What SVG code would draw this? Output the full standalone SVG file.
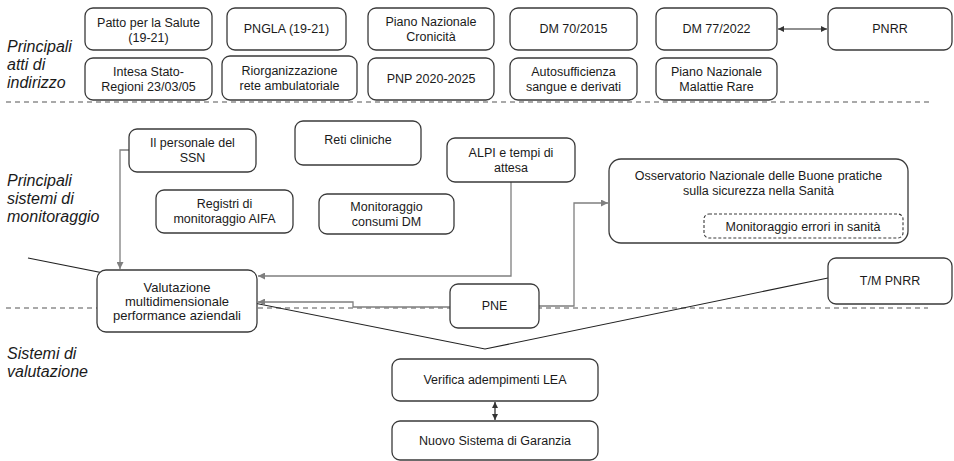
<svg xmlns="http://www.w3.org/2000/svg" width="954" height="461" viewBox="0 0 954 461">
<defs>
<style>
.b{fill:#fff;stroke:#3a3a3a;stroke-width:1.3}
.t{font-family:"Liberation Sans",Arial,sans-serif;font-size:12.5px;fill:#1a1a1a;text-anchor:middle;dominant-baseline:central}
.l{font-family:"Liberation Sans",Arial,sans-serif;font-size:16px;font-style:italic;fill:#1a1a1a}
.d{stroke:#555;stroke-width:1.2;stroke-dasharray:5 4;fill:none}
.c{stroke:#7f7f7f;stroke-width:1.3;fill:none}
.k{stroke:#222;stroke-width:1.2;fill:none}
</style>
<marker id="ag" viewBox="0 0 10 10" refX="10" refY="5" markerWidth="8" markerHeight="7" markerUnits="userSpaceOnUse" orient="auto"><path d="M0,0L10,5L0,10z" fill="#7f7f7f"/></marker>
<marker id="ak" viewBox="0 0 10 10" refX="10" refY="5" markerWidth="7" markerHeight="6" markerUnits="userSpaceOnUse" orient="auto-start-reverse"><path d="M0,0L10,5L0,10z" fill="#333"/></marker>
</defs>

<g id="labels">
<text class="l" x="7" y="52">Principali</text>
<text class="l" x="7" y="70">atti di</text>
<text class="l" x="7" y="88">indirizzo</text>
<text class="l" x="7" y="186">Principali</text>
<text class="l" x="7" y="204">sistemi di</text>
<text class="l" x="7" y="222">monitoraggio</text>
<text class="l" x="7" y="359">Sistemi di</text>
<text class="l" x="7" y="377">valutazione</text>
</g>

<g id="separators">
<line class="d" x1="6" y1="102" x2="930" y2="102"/>
<line class="d" x1="6" y1="308" x2="928" y2="308"/>
</g>

<g id="connectors">
<path class="k" d="M28,258L485,349L828,278"/>
<path class="c" d="M129,150H120V269" marker-end="url(#ag)"/>
<path class="c" d="M511,182V276H258" marker-end="url(#ag)"/>
<path class="c" d="M450,307H353V302H258" marker-end="url(#ag)"/>
<path class="c" d="M539,306H574V203H608" marker-end="url(#ag)"/>
<path class="k" d="M778,29H827" marker-start="url(#ak)" marker-end="url(#ak)"/>
<path class="k" d="M495,402V420" marker-start="url(#ak)" marker-end="url(#ak)"/>
</g>

<g id="n-patto"><rect class="b" x="85" y="8" width="127" height="42" rx="8"/><text class="t" x="148.5" y="23">Patto per la Salute</text><text class="t" x="148.5" y="38">(19-21)</text></g>
<g id="n-pngla"><rect class="b" x="227" y="8" width="119" height="42" rx="8"/><text class="t" x="286.5" y="29">PNGLA (19-21)</text></g>
<g id="n-cronicita"><rect class="b" x="368" y="8" width="126" height="42" rx="8"/><text class="t" x="431" y="22">Piano Nazionale</text><text class="t" x="431" y="37">Cronicità</text></g>
<g id="n-dm70"><rect class="b" x="510" y="8" width="127" height="42" rx="8"/><text class="t" x="573.5" y="29">DM 70/2015</text></g>
<g id="n-dm77"><rect class="b" x="656" y="8" width="121" height="42" rx="8"/><text class="t" x="716.5" y="29">DM 77/2022</text></g>
<g id="n-pnrr"><rect class="b" x="828" y="8" width="124" height="42" rx="8"/><text class="t" x="890" y="29">PNRR</text></g>

<g id="n-intesa"><rect class="b" x="85" y="58" width="127" height="42" rx="8"/><text class="t" x="148.5" y="72">Intesa Stato-</text><text class="t" x="148.5" y="87">Regioni 23/03/05</text></g>
<g id="n-riorg"><rect class="b" x="222" y="56" width="135" height="44" rx="8"/><text class="t" x="289.5" y="71">Riorganizzazione</text><text class="t" x="289.5" y="86">rete ambulatoriale</text></g>
<g id="n-pnp"><rect class="b" x="368" y="58" width="126" height="42" rx="8"/><text class="t" x="431" y="79">PNP 2020-2025</text></g>
<g id="n-sangue"><rect class="b" x="510" y="58" width="127" height="42" rx="8"/><text class="t" x="573.5" y="72">Autosufficienza</text><text class="t" x="573.5" y="87">sangue e derivati</text></g>
<g id="n-rare"><rect class="b" x="656" y="58" width="121" height="42" rx="8"/><text class="t" x="716.5" y="72">Piano Nazionale</text><text class="t" x="716.5" y="87">Malattie Rare</text></g>

<g id="n-personale"><rect class="b" x="129" y="129" width="127" height="43" rx="8"/><text class="t" x="192.5" y="143">Il personale del</text><text class="t" x="192.5" y="158">SSN</text></g>
<g id="n-reti"><rect class="b" x="295" y="121" width="126" height="44" rx="8"/><text class="t" x="358" y="140">Reti cliniche</text></g>
<g id="n-alpi"><rect class="b" x="447" y="138" width="128" height="44" rx="8"/><text class="t" x="511" y="153">ALPI e tempi di</text><text class="t" x="511" y="168">attesa</text></g>
<g id="n-aifa"><rect class="b" x="156" y="190" width="137" height="43" rx="8"/><text class="t" x="224.5" y="204">Registri di</text><text class="t" x="224.5" y="219">monitoraggio AIFA</text></g>
<g id="n-consumi"><rect class="b" x="319" y="194" width="135" height="40" rx="8"/><text class="t" x="386.5" y="207">Monitoraggio</text><text class="t" x="386.5" y="222">consumi DM</text></g>
<g id="n-osservatorio"><rect class="b" x="609" y="159" width="299" height="84" rx="12"/><text class="t" x="758.5" y="176">Osservatorio Nazionale delle Buone pratiche</text><text class="t" x="758.5" y="191">sulla sicurezza nella Sanità</text>
<rect x="704" y="214" width="199" height="24" rx="5" fill="#fff" stroke="#3a3a3a" stroke-width="1.1" stroke-dasharray="3 2"/><text class="t" x="803" y="226.5">Monitoraggio errori in sanità</text></g>

<g id="n-valutazione"><rect class="b" x="97" y="270" width="160" height="62" rx="9"/><text class="t" x="177" y="287" style="font-size:13px">Valutazione</text><text class="t" x="177" y="301" style="font-size:13px">multidimensionale</text><text class="t" x="177" y="315" style="font-size:13px">performance aziendali</text></g>
<g id="n-pne"><rect class="b" x="450" y="284" width="89" height="44" rx="8"/><text class="t" x="494.5" y="306">PNE</text></g>
<g id="n-tm"><rect class="b" x="828" y="258" width="124" height="46" rx="8"/><text class="t" x="890" y="281">T/M PNRR</text></g>

<g id="n-lea"><rect class="b" x="392" y="359" width="206" height="42" rx="8"/><text class="t" x="495" y="380">Verifica adempimenti LEA</text></g>
<g id="n-nsg"><rect class="b" x="392" y="421" width="206" height="39" rx="8"/><text class="t" x="495" y="441">Nuovo Sistema di Garanzia</text></g>
</svg>
